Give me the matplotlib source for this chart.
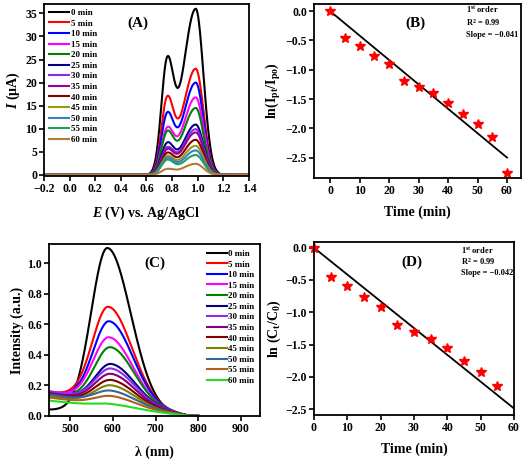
import numpy as np
import matplotlib
matplotlib.use("Agg")
import matplotlib.pyplot as plt

plt.rcParams['font.family'] = ['Liberation Serif', 'DejaVu Serif']
plt.rcParams['font.weight'] = 'bold'
plt.rcParams['axes.labelweight'] = 'bold'
plt.rcParams['mathtext.fontset'] = 'custom'
plt.rcParams['mathtext.rm'] = 'Liberation Serif:bold'
plt.rcParams['mathtext.it'] = 'Liberation Serif:bold:italic'
plt.rcParams['mathtext.bf'] = 'Liberation Serif:bold'

# ---------------- data ----------------
times = [0, 5, 10, 15, 20, 25, 30, 35, 40, 45, 50, 55, 60]
labels = [f"{t} min" for t in times]

# (A) DPV peak heights (µA) for the two oxidation peaks
dpv_peak1 = [25.5, 17.0, 13.5, 10.3, 9.5, 7.0, 6.0, 5.6, 4.8, 4.1, 3.7, 3.3, 1.3]
dpv_peak2 = [36.0, 23.0, 20.0, 16.8, 14.5, 10.9, 9.9, 9.2, 7.6, 6.3, 5.3, 4.3, 2.4]
dpv_pos1 = 0.76
dpv_pos2 = 0.985
colors_a = ['black', 'red', 'blue', 'magenta', '#008000', '#000080', '#8a2be2',
            '#990099', '#800000', '#9a9a10', '#3a7dd0', '#20a060', '#b57a3a']

# (B) ln(Ipt/Ip0)
b_time = [0, 5, 10, 15, 20, 25, 30, 35, 40, 45, 50, 55, 60]
b_ln = [0.0, -0.45, -0.59, -0.77, -0.91, -1.20, -1.30, -1.40, -1.56, -1.75, -1.93, -2.14, -2.76]
b_fit_t = [0, 60]
b_fit_y = [0.0, -2.50]

# (C) absorption spectra: peak intensity, peak position, starting baseline at 450 nm
uv_peak = [1.10, 0.715, 0.62, 0.515, 0.45, 0.34, 0.31, 0.275, 0.235, 0.20, 0.165, 0.13, 0.078]
uv_pos = [587, 590, 592, 592, 595, 597, 597, 597, 597, 597, 597, 597, 595]
uv_base = [0.04, 0.16, 0.155, 0.16, 0.15, 0.155, 0.16, 0.15, 0.14, 0.13, 0.14, 0.12, 0.10]
colors_c = ['black', 'red', 'blue', 'magenta', '#008000', '#000080', '#8c2cf0',
            '#800080', '#800000', '#808000', '#336699', '#b0601e', '#22dd22']

# (D) ln(Ct/C0)
d_time = [0, 5, 10, 15, 20, 25, 30, 35, 40, 45, 50, 55]
d_ln = [0.0, -0.45, -0.59, -0.77, -0.92, -1.20, -1.30, -1.41, -1.56, -1.75, -1.93, -2.14]
d_fit_t = [0, 60]
d_fit_y = [0.0, -2.49]

# --------------- figure ----------------
fig = plt.figure(figsize=(5.24, 4.59), dpi=100)
axA = fig.add_axes([0.084, 0.617, 0.391, 0.374])
axB = fig.add_axes([0.599, 0.612, 0.395, 0.379])
axC = fig.add_axes([0.0935, 0.094, 0.4025, 0.374])
axD = fig.add_axes([0.599, 0.096, 0.382, 0.377])

TICK = 8.5
LAB = 10

def style(ax):
    for s in ax.spines.values():
        s.set_linewidth(1.3)
    ax.tick_params(direction='out', length=3.5, width=1.2, labelsize=TICK, pad=1.5)
    for lab in ax.get_xticklabels() + ax.get_yticklabels():
        lab.set_fontweight('bold')

def asym_gauss(x, c, sl, sr):
    s = np.where(x < c, sl, sr)
    return np.exp(-(x - c) ** 2 / (2 * s ** 2))

# (A)
E = np.linspace(-0.2, 1.4, 1200)
sl1, sr1, sl2, sr2 = 0.045, 0.05, 0.10, 0.06
for h1, h2, col, lab in zip(dpv_peak1, dpv_peak2, colors_a, labels):
    a2 = h2
    a1 = h1 - h2 * asym_gauss(np.array(dpv_pos1), dpv_pos2, sl2, sr2)
    y = a1 * asym_gauss(E, dpv_pos1, sl1, sr1) + a2 * asym_gauss(E, dpv_pos2, sl2, sr2)
    axA.plot(E, y, color=col, lw=1.5, label=lab)
axA.set_xlim(-0.2, 1.4)
axA.set_ylim(-0.2, 37)
axA.set_xticks(np.arange(-0.2, 1.41, 0.2))
axA.set_xticklabels([f"{v:.1f}".replace('-', '\u2212') for v in np.arange(-0.2, 1.41, 0.2)])
axA.set_yticks(range(0, 36, 5))
axA.set_xlabel(r'$\mathit{E}$ (V) vs. Ag/AgCl', fontsize=LAB, labelpad=7)
axA.set_ylabel(r'$\mathit{I}$ ($\mathrm{\mu}$A)', fontsize=LAB, labelpad=2)
axA.text(0.46, 0.89, '(A)', transform=axA.transAxes, fontsize=11, fontweight='bold', ha='center', va='center')
axA.legend(loc='upper left', frameon=False, handlelength=2.3, handletextpad=0.15,
           labelspacing=0.25, borderaxespad=0.1, bbox_to_anchor=(0.0, 1.0),
           prop={'weight': 'bold', 'size': 6.5})
style(axA)

# (B)
axB.plot(b_fit_t, b_fit_y, color='black', lw=1.3)
axB.plot(b_time, b_ln, linestyle='none', marker='*', color='red', markersize=7)
axB.set_xlim(-5.5, 64.7)
axB.set_ylim(-2.85, 0.12)
axB.set_xticks(range(0, 61, 10))
axB.set_yticks(np.arange(0, -2.51, -0.5))
axB.set_yticklabels([f"{v:.1f}".replace('-', '\u2212') for v in np.arange(0, -2.51, -0.5)])
axB.set_xlabel('Time (min)', fontsize=LAB, labelpad=6)
axB.set_ylabel(r'ln(I$_{\mathrm{pt}}$/I$_{\mathrm{po}}$)', fontsize=LAB, labelpad=2)
axB.text(0.49, 0.89, '(B)', transform=axB.transAxes, fontsize=11, fontweight='bold', ha='center', va='center')
axB.text(0.735, 0.965, r'1$^{\mathrm{st}}$ order', transform=axB.transAxes, fontsize=6, va='center')
axB.text(0.735, 0.895, r'R$^{2}$ = 0.99', transform=axB.transAxes, fontsize=6, va='center')
axB.text(0.735, 0.825, 'Slope = \u22120.041', transform=axB.transAxes, fontsize=6, va='center')
style(axB)

# (C)
lam = np.linspace(450, 800, 800)
for h, c, b0, col, lab in zip(uv_peak, uv_pos, uv_base, colors_c, labels):
    base = b0 * np.clip(1 - (lam - 450) / 330.0, 0, None)
    amp = h - b0 * max(0.0, 1 - (c - 450) / 330.0)
    y = base + amp * asym_gauss(lam, c, 38, 55)
    axC.plot(lam, y, color=col, lw=1.5, label=lab)
axC.set_xlim(450, 945)
axC.set_ylim(0, 1.125)
axC.set_xticks(range(500, 901, 100))
axC.set_yticks(np.arange(0, 1.01, 0.2))
axC.set_yticklabels([f"{v:.1f}" for v in np.arange(0, 1.01, 0.2)])
axC.set_xlabel('\u03bb (nm)', fontsize=LAB, labelpad=8)
axC.set_ylabel('Intensity (a.u.)', fontsize=LAB, labelpad=2)
axC.text(0.5, 0.89, '(C)', transform=axC.transAxes, fontsize=11, fontweight='bold', ha='center', va='center')
axC.legend(loc='upper right', frameon=False, handlelength=2.3, handletextpad=0.1,
           labelspacing=0.25, borderaxespad=0.2, prop={'weight': 'bold', 'size': 6.5})
style(axC)

# (D)
axD.plot(d_fit_t, d_fit_y, color='black', lw=1.3)
axD.plot(d_time, d_ln, linestyle='none', marker='*', color='red', markersize=7, clip_on=False)
axD.set_xlim(0, 60)
axD.set_ylim(-2.59, 0.09)
axD.set_xticks(range(0, 61, 10))
axD.set_yticks(np.arange(0, -2.51, -0.5))
axD.set_yticklabels([f"{v:.1f}".replace('-', '\u2212') for v in np.arange(0, -2.51, -0.5)])
axD.set_xlabel('Time (min)', fontsize=LAB, labelpad=6)
axD.set_ylabel(r'ln (C$_{\mathrm{t}}$/C$_{\mathrm{0}}$)', fontsize=LAB, labelpad=2)
axD.text(0.49, 0.88, '(D)', transform=axD.transAxes, fontsize=11, fontweight='bold', ha='center', va='center')
axD.text(0.735, 0.95, r'1$^{\mathrm{st}}$ order', transform=axD.transAxes, fontsize=6, va='center')
axD.text(0.735, 0.885, r'R$^{2}$ = 0.99', transform=axD.transAxes, fontsize=6, va='center')
axD.text(0.735, 0.82, 'Slope = \u22120.042', transform=axD.transAxes, fontsize=6, va='center')
style(axD)

fig.savefig('out.png', dpi=100)
